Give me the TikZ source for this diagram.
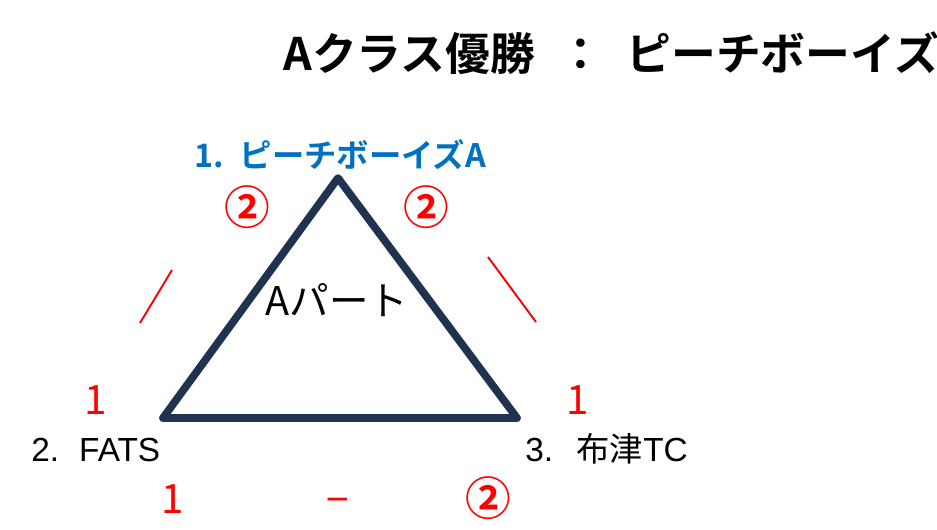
\documentclass[tikz,border=0pt]{standalone}
\usepackage{fontspec}
\setmainfont{Noto Sans CJK JP}
\newfontfamily\jpbold{Noto Sans CJK JP Bold}
\newfontfamily\latin{Liberation Sans}
\definecolor{navy}{HTML}{1F3350}
\definecolor{pblue}{HTML}{0070C0}
\definecolor{pred}{HTML}{FF0000}
\usetikzlibrary{positioning}

\begin{document}
\begin{tikzpicture}[x=0.02cm,y=-0.02cm,
	team/.style={font=\fontsize{19}{22}\selectfont, inner sep=0pt},
	score/.style={text=pred, font=\fontsize{23}{27}\selectfont, inner sep=0pt},
	win/.style={text=pred, font=\jpbold\fontsize{26}{30}\selectfont, inner sep=0pt},
	tally/.style={draw=pred, line width=1.1pt}]
	\useasboundingbox (0,0) rectangle (937,529);
	\clip (0,0) rectangle (937,529);
	% title
	\node[anchor=base west, inner sep=0pt, font=\jpbold\fontsize{25.5}{30}\selectfont] (title) at (283,70) {Aクラス優勝\hspace{0.52em}：\hspace{0.52em}ピーチボーイズA};
	% triangle
	\coordinate (top) at (338,178);
	\coordinate (left) at (163,418);
	\coordinate (right) at (517,418);
	\draw[navy, line width=4.4pt, line join=round, line cap=round] (top) -- (left) -- (right) -- cycle;
	\node[font=\fontsize{22.5}{26}\selectfont, inner sep=0pt] (part) at (337,300) {Aパート};
	% teams
	\node[team, text=pblue, font=\jpbold\fontsize{18.4}{22}\selectfont] (t1) at (340,155) {1.\hspace{0.5em}ピーチボーイズA};
	\node[team, anchor=base west] (t2) at (31,461) {\latin 2.\hspace{0.6em}FATS};
	\node[team, anchor=base west] (t3) at (525,461) {{\latin 3.}\hspace{0.7em}布津{\latin TC}};
	% scores
	\node[win] (s12a) at (247,207) {②};
	\node[win] (s13a) at (426,207) {②};
	\node[score] (s12b) at (96,400) {1};
	\node[score] (s13b) at (578,400) {1};
	\node[score] (s23a) at (173,499) {1};
	\node[score] (s23m) at (338,506) {−};
	\node[win] (s23b) at (488,498) {②};
	% slashes
	\coordinate (l1) at (172,270);
	\coordinate (l2) at (140,323);
	\coordinate (r1) at (488,257);
	\coordinate (r2) at (536,322);
	\draw[tally] (l1) -- (l2);
	\draw[tally] (r1) -- (r2);
\end{tikzpicture}
\end{document}
